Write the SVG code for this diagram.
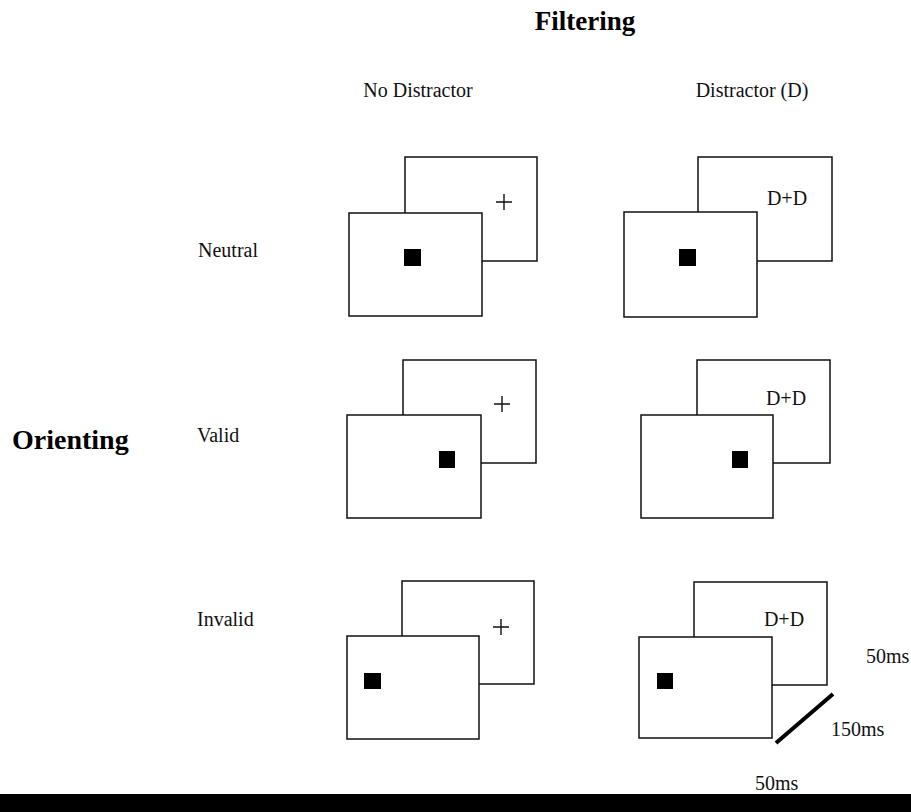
<svg xmlns="http://www.w3.org/2000/svg" width="911" height="812" viewBox="0 0 911 812">
  <style>
    .scr { fill: #ffffff; stroke: #111111; stroke-width: 1.5; }
    .tgt { fill: #000000; }
    .fix { stroke: #111111; stroke-width: 1.4; fill: none; }
    .lbl { font-family: "Liberation Serif", "Times New Roman", serif; font-size: 20px; fill: #111111; }
    .hd { font-family: "Liberation Serif", "Times New Roman", serif; font-weight: bold; fill: #000000; }
  </style>
  <rect x="0" y="0" width="911" height="812" fill="#ffffff"/>

  <g id="headers">
    <text class="hd" x="585" y="30" font-size="27" text-anchor="middle">Filtering</text>
    <text class="lbl" x="418" y="97" text-anchor="middle">No Distractor</text>
    <text class="lbl" x="752" y="97" text-anchor="middle">Distractor (D)</text>
    <text class="hd" x="12" y="449" font-size="28">Orienting</text>
    <text class="lbl" x="198" y="257">Neutral</text>
    <text class="lbl" x="197" y="442">Valid</text>
    <text class="lbl" x="197" y="626">Invalid</text>
  </g>

  <g id="neutral-nodistractor">
    <rect class="scr" x="405" y="157" width="132" height="104"/>
    <path class="fix" d="M496 202 H512 M504 194 V210"/>
    <rect class="scr" x="349" y="213" width="133" height="103"/>
    <rect class="tgt" x="404" y="249" width="17" height="17"/>
  </g>

  <g id="neutral-distractor">
    <rect class="scr" x="698" y="157" width="134" height="104"/>
    <text class="lbl" x="787" y="205" text-anchor="middle">D+D</text>
    <rect class="scr" x="624" y="212" width="133" height="105"/>
    <rect class="tgt" x="679" y="249" width="17" height="17"/>
  </g>

  <g id="valid-nodistractor">
    <rect class="scr" x="403" y="360" width="133" height="103"/>
    <path class="fix" d="M494 404 H510 M502 396 V412"/>
    <rect class="scr" x="347" y="415" width="134" height="103"/>
    <rect class="tgt" x="439" y="451" width="16" height="17"/>
  </g>

  <g id="valid-distractor">
    <rect class="scr" x="697" y="360" width="133" height="103"/>
    <text class="lbl" x="786" y="405" text-anchor="middle">D+D</text>
    <rect class="scr" x="641" y="415" width="132" height="103"/>
    <rect class="tgt" x="732" y="451" width="16" height="17"/>
  </g>

  <g id="invalid-nodistractor">
    <rect class="scr" x="402" y="581" width="132" height="103"/>
    <path class="fix" d="M493 627 H509 M501 619 V635"/>
    <rect class="scr" x="347" y="636" width="132" height="103"/>
    <rect class="tgt" x="364" y="673" width="17" height="16"/>
  </g>

  <g id="invalid-distractor">
    <rect class="scr" x="694" y="582" width="133" height="103"/>
    <text class="lbl" x="784" y="626" text-anchor="middle">D+D</text>
    <rect class="scr" x="639" y="637" width="133" height="101"/>
    <rect class="tgt" x="657" y="673" width="16" height="16"/>
  </g>

  <g id="connectors">
    <line x1="776" y1="743" x2="833" y2="694" stroke="#000000" stroke-width="4"/>
  </g>

  <g id="timing">
    <text class="lbl" x="866" y="663">50ms</text>
    <text class="lbl" x="831" y="736">150ms</text>
    <text class="lbl" x="755" y="790">50ms</text>
    <rect x="0" y="794" width="911" height="18" fill="#000000"/>
  </g>
</svg>
